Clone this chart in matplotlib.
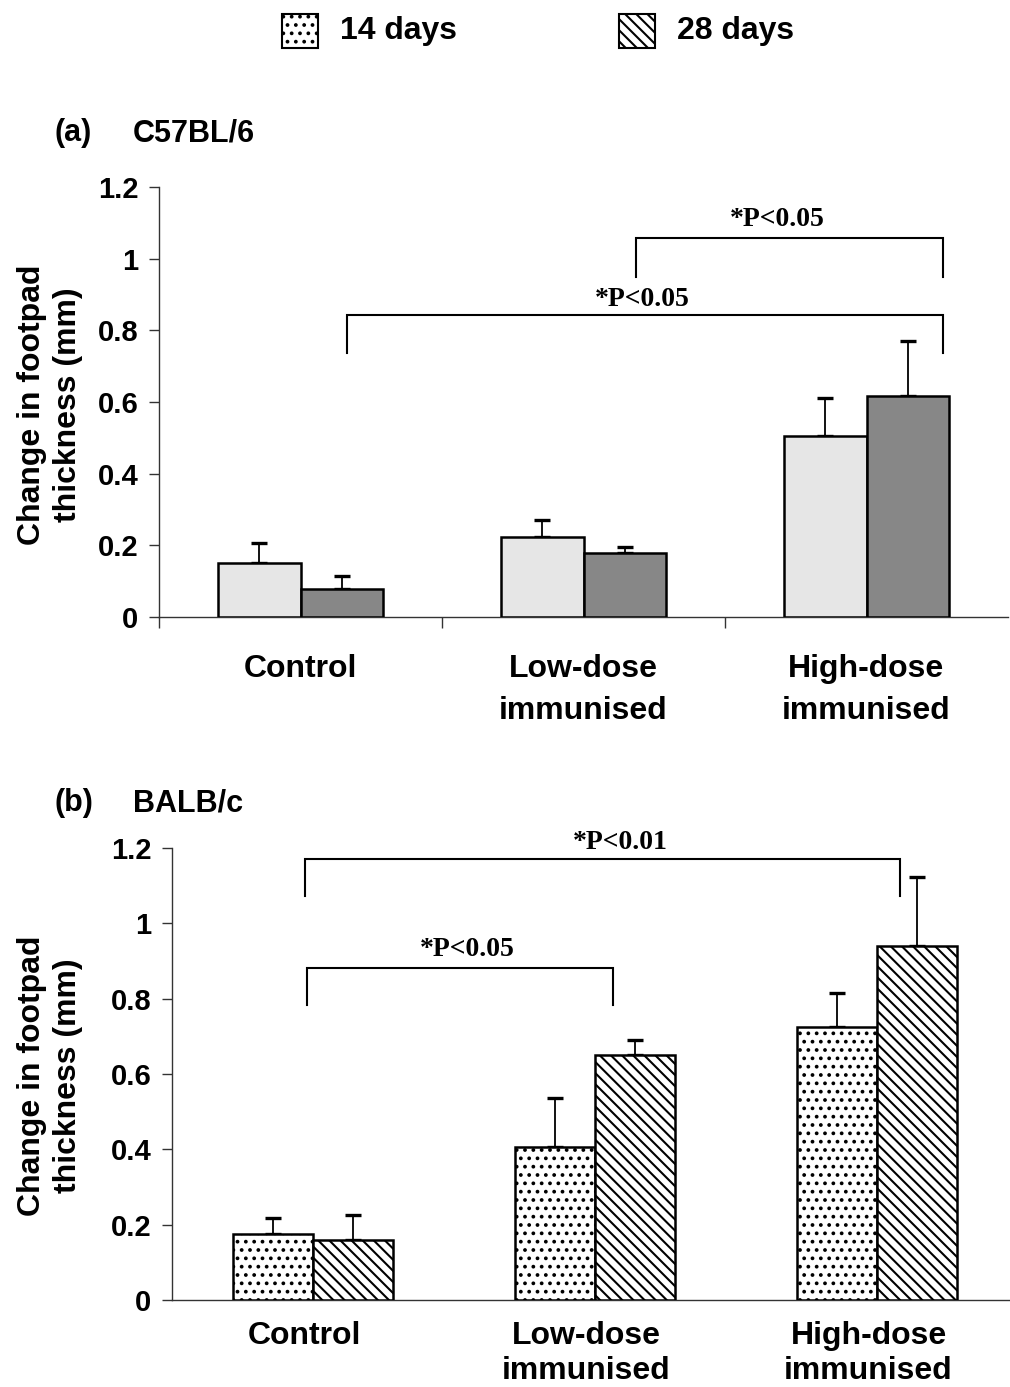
import numpy as np
import matplotlib
matplotlib.use("Agg")
import matplotlib.pyplot as plt
from matplotlib.patches import Rectangle

# data
groups = ["Control", "Low-dose\nimmunised", "High-dose\nimmunised"]
series = ["14 days", "28 days"]

a_14 = [0.150, 0.223, 0.505]
a_14_err = [0.057, 0.048, 0.105]
a_28 = [0.079, 0.178, 0.617]
a_28_err = [0.036, 0.017, 0.153]

b_14 = [0.174, 0.405, 0.724]
b_14_err = [0.045, 0.131, 0.092]
b_28 = [0.160, 0.650, 0.940]
b_28_err = [0.065, 0.041, 0.184]

yticks = [0, 0.2, 0.4, 0.6, 0.8, 1.0, 1.2]
ytick_labels = ["0", "0.2", "0.4", "0.6", "0.8", "1", "1.2"]

# brackets: (x_left, x_right, y_top, y_leg, text, text_x, text_y)
brackets_a = [(1.685, 2.77, 1.058, 0.949, "*P<0.05", 2.184, 1.108),
              (0.664, 2.77, 0.843, 0.737, "*P<0.05", 1.706, 0.885)]
brackets_b = [(0.472, 2.582, 1.170, 1.072, "*P<0.01", 1.588, 1.215),
              (0.479, 1.564, 0.882, 0.782, "*P<0.05", 1.046, 0.930)]

plt.rcParams['font.family'] = ['Liberation Sans', 'DejaVu Sans']
plt.rcParams['font.weight'] = 'bold'
plt.rcParams['hatch.linewidth'] = 1.5

W, H = 1010, 1387
fig = plt.figure(figsize=(W / 100, H / 100), dpi=100)

def fx(px):
    return px / W

def fy(px):
    return 1 - px / H

ax_a = fig.add_axes([fx(159), fy(617), fx(1008) - fx(159), fy(187) - fy(617)])
ax_b = fig.add_axes([fx(172), fy(1300), fx(1018) - fx(172), fy(848) - fy(1300)])

spine_col = '#333333'
x = np.arange(len(groups)) + 0.5


def draw_panel(ax, v14, e14, v28, e28, width, style14, style28, brackets,
               xtick_marks, label_pad, linesp, label_shift):
    n = len(groups)
    ax.bar(x - width / 2, v14, width, edgecolor='black', linewidth=1.8, zorder=3, **style14)
    ax.bar(x + width / 2, v28, width, edgecolor='black', linewidth=1.8, zorder=3, **style28)
    ax.errorbar(x - width / 2, v14, yerr=[np.zeros(n), e14], fmt='none', ecolor='black',
                elinewidth=1.3, capsize=6, capthick=2.4, zorder=2)
    ax.errorbar(x + width / 2, v28, yerr=[np.zeros(n), e28], fmt='none', ecolor='black',
                elinewidth=1.3, capsize=6, capthick=2.4, zorder=2)

    ax.set_xlim(0, n)
    ax.set_ylim(0, 1.2)
    ax.set_yticks(yticks)
    ax.set_yticklabels(ytick_labels, fontsize=21, fontweight='bold')
    ax.tick_params(axis='y', direction='out', length=7, width=1, color=spine_col, pad=8)

    ax.set_xticks(x + label_shift)
    ax.set_xticklabels(groups, fontsize=23, fontweight='bold', linespacing=linesp)
    ax.tick_params(axis='x', which='major', length=0, pad=label_pad)
    if xtick_marks:
        ax.set_xticks(np.arange(n), minor=True)
        ax.tick_params(axis='x', which='minor', direction='out', length=8, width=1, color=spine_col)

    for s in ['top', 'right']:
        ax.spines[s].set_visible(False)
    for s in ['left', 'bottom']:
        ax.spines[s].set_color(spine_col)
        ax.spines[s].set_linewidth(1)

    for x0, x1, yt, yl, txt, tx, ty in brackets:
        ax.plot([x0, x0, x1, x1], [yl, yt, yt, yl], color='black', lw=1.5,
                clip_on=False, zorder=4, solid_joinstyle='miter')
        ax.text(tx, ty, txt, ha='center', va='center', fontsize=20, fontweight='bold',
                family=['Liberation Serif', 'DejaVu Serif'], clip_on=False)


style_a14 = dict(color='#e6e6e6')
style_a28 = dict(color='#878787')
style_b14 = dict(color='white', hatch='..')
style_b28 = dict(color='white', hatch='\\\\\\')

draw_panel(ax_a, a_14, a_14_err, a_28, a_28_err, 0.29, style_a14, style_a28,
           brackets_a, True, 27, 1.5, 0.0)
draw_panel(ax_b, b_14, b_14_err, b_28, b_28_err, 0.285, style_b14, style_b28,
           brackets_b, False, 15, 1.22, -0.03)

# y labels
for yc in [405, 1076]:
    fig.text(fx(50), fy(yc), "Change in footpad\nthickness (mm)", rotation=90,
             ha='center', va='center', fontsize=23, fontweight='bold', linespacing=1.3)

# panel titles
for ty, tag, name in [(133, "(a)", "C57BL/6"), (803, "(b)", "BALB/c")]:
    fig.text(fx(55), fy(ty), tag, ha='left', va='center', fontsize=22, fontweight='bold')
    fig.text(fx(133), fy(ty), name, ha='left', va='center', fontsize=22, fontweight='bold')

# legend
for (lx, txt, hatch) in [(282, series[0], '..'), (619, series[1], '\\\\\\')]:
    fig.add_artist(Rectangle((fx(lx), fy(48)), fx(36), fy(14) - fy(48), transform=fig.transFigure,
                             facecolor='white', edgecolor='black', hatch=hatch, linewidth=1.5))
    fig.text(fx(lx + 58), fy(31), txt, ha='left', va='center', fontsize=23, fontweight='bold')

fig.savefig("out.png", dpi=100)
